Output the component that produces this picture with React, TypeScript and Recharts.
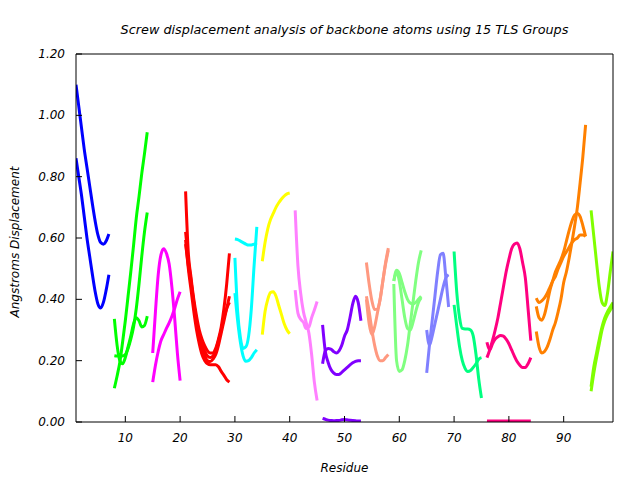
import { LineChart, Line, XAxis, YAxis } from 'recharts'

// residue positions and screw displacement per TLS group
const blueRes = [1, 1.5, 2, 2.5, 3, 3.5, 4, 4.5, 5, 5.5, 6, 6.5, 7]
const blueA = [1.1, 1.03, 0.96, 0.89, 0.83, 0.77, 0.71, 0.655, 0.61, 0.585, 0.58, 0.59, 0.613]
const blueB = [0.86, 0.8, 0.74, 0.67, 0.6, 0.54, 0.48, 0.425, 0.385, 0.372, 0.39, 0.43, 0.48]

const greenRes = [8, 8.5, 9, 9.5, 10, 10.5, 11, 11.5, 12, 12.5, 13, 13.5, 14]
const greenA = [0.11, 0.15, 0.195, 0.26, 0.33, 0.41, 0.49, 0.575, 0.665, 0.735, 0.81, 0.875, 0.945]
const greenB = [0.336, 0.25, 0.2, 0.19, 0.21, 0.245, 0.28, 0.32, 0.34, 0.33, 0.31, 0.315, 0.345]
const greenC = [0.216, 0.215, 0.22, 0.215, 0.22, 0.24, 0.27, 0.31, 0.37, 0.45, 0.54, 0.62, 0.683]

const magRes = [15, 15.5, 16, 16.5, 17, 17.5, 18, 18.5, 19, 19.5, 20]
const magA = [0.225, 0.36, 0.48, 0.545, 0.565, 0.55, 0.515, 0.44, 0.34, 0.225, 0.135]
const magB = [0.13, 0.185, 0.23, 0.265, 0.285, 0.305, 0.323, 0.345, 0.37, 0.4, 0.425]

const redRes = [21, 21.5, 22, 22.5, 23, 23.5, 24, 24.5, 25, 25.5, 26, 26.5, 27, 27.5, 28, 28.5, 29]
const redA = [0.752, 0.55, 0.47, 0.4, 0.345, 0.3, 0.27, 0.248, 0.232, 0.225, 0.225, 0.24, 0.27, 0.31, 0.37, 0.45, 0.55]
const redB = [0.62, 0.53, 0.46, 0.39, 0.33, 0.28, 0.245, 0.215, 0.2, 0.197, 0.205, 0.22, 0.25, 0.29, 0.33, 0.37, 0.41]
const redC = [0.594, 0.5, 0.43, 0.36, 0.3, 0.255, 0.22, 0.2, 0.19, 0.187, 0.187, 0.187, 0.18, 0.165, 0.152, 0.138, 0.13]
const redD = [0.58, 0.51, 0.45, 0.385, 0.325, 0.28, 0.25, 0.23, 0.215, 0.21, 0.215, 0.235, 0.265, 0.3, 0.34, 0.37, 0.39]

const cyanRes = [30, 30.5, 31, 31.5, 32, 32.5, 33, 33.5, 34]
const cyanA = [0.597, 0.595, 0.59, 0.585, 0.58, 0.577, 0.577, 0.58, 0.584]
const cyanB = [0.535, 0.36, 0.275, 0.24, 0.245, 0.28, 0.37, 0.51, 0.636]
const cyanC = [0.42, 0.33, 0.26, 0.215, 0.198, 0.2, 0.21, 0.225, 0.236]

const yellowRes = [35, 35.5, 36, 36.5, 37, 37.5, 38, 38.5, 39, 39.5, 40]
const yellowA = [0.524, 0.585, 0.63, 0.66, 0.68, 0.7, 0.715, 0.727, 0.737, 0.744, 0.747]
const yellowB = [0.285, 0.36, 0.4, 0.422, 0.425, 0.41, 0.38, 0.35, 0.32, 0.3, 0.288]

const pinkRes = [41, 41.5, 42, 42.5, 43, 43.5, 44, 44.5, 45]
const pinkA = [0.69, 0.51, 0.42, 0.36, 0.325, 0.29, 0.22, 0.13, 0.07]
const pinkB = [0.43, 0.355, 0.335, 0.325, 0.305, 0.31, 0.34, 0.365, 0.393]

const purpleRes = [46, 46.5, 47, 47.5, 48, 48.5, 49, 49.5, 50, 50.5, 51, 51.5, 52, 52.5, 53]
const purpleA = [0.317, 0.23, 0.195, 0.172, 0.16, 0.155, 0.155, 0.162, 0.17, 0.178, 0.186, 0.193, 0.198, 0.2, 0.2]
const purpleB = [0.19, 0.232, 0.24, 0.238, 0.23, 0.225, 0.232, 0.25, 0.28, 0.3, 0.34, 0.385, 0.41, 0.39, 0.33]
const purpleC = [0.012, 0.009, 0.006, 0.005, 0.004, 0.005, 0.005, 0.007, 0.008, 0.007, 0.006, 0.005, 0.004, 0.003, 0.003]

const salmonRes = [54, 54.5, 55, 55.5, 56, 56.5, 57, 57.5, 58]
const salmonA = [0.52, 0.45, 0.395, 0.367, 0.368, 0.4, 0.46, 0.52, 0.567]
const salmonB = [0.4, 0.32, 0.285, 0.31, 0.355, 0.4, 0.46, 0.515, 0.56]
const salmonC = [0.41, 0.36, 0.3, 0.25, 0.215, 0.2, 0.2, 0.21, 0.22]

const lgreenRes = [59, 59.5, 60, 60.5, 61, 61.5, 62, 62.5, 63, 63.5, 64]
const lgreenA = [0.46, 0.495, 0.485, 0.455, 0.425, 0.4, 0.388, 0.385, 0.39, 0.4, 0.41]
const lgreenB = [0.45, 0.2, 0.165, 0.17, 0.2, 0.25, 0.32, 0.39, 0.46, 0.52, 0.56]
const lgreenC = [0.46, 0.49, 0.46, 0.4, 0.34, 0.305, 0.3, 0.325, 0.36, 0.39, 0.405]

const periRes = [65, 65.5, 66, 66.5, 67, 67.5, 68, 68.5, 69]
const periA = [0.16, 0.25, 0.33, 0.41, 0.49, 0.545, 0.55, 0.47, 0.375]
const periB = [0.3, 0.25, 0.28, 0.32, 0.36, 0.4, 0.44, 0.47, 0.48]

const springRes = [70, 70.5, 71, 71.5, 72, 72.5, 73, 73.5, 74, 74.5, 75]
const springA = [0.556, 0.42, 0.34, 0.305, 0.303, 0.303, 0.3, 0.28, 0.22, 0.14, 0.078]
const springB = [0.382, 0.31, 0.245, 0.2, 0.175, 0.165, 0.168, 0.178, 0.19, 0.205, 0.21]

const dpinkRes = [76, 76.5, 77, 77.5, 78, 78.5, 79, 79.5, 80, 80.5, 81, 81.5, 82, 82.5, 83, 83.5, 84]
const dpinkA = [0.21, 0.235, 0.265, 0.3, 0.34, 0.39, 0.44, 0.49, 0.53, 0.565, 0.58, 0.584, 0.565, 0.52, 0.47, 0.37, 0.265]
const dpinkB = [0.26, 0.235, 0.255, 0.27, 0.278, 0.282, 0.28, 0.27, 0.255, 0.235, 0.215, 0.197, 0.185, 0.178, 0.178, 0.19, 0.21]
const dpinkC = [0.003, 0.003, 0.003, 0.003, 0.003, 0.003, 0.003, 0.003, 0.003, 0.003, 0.003, 0.003, 0.003, 0.003, 0.003, 0.003, 0.003]

const orangeRes = [85, 85.5, 86, 86.5, 87, 87.5, 88, 88.5, 89, 89.5, 90, 90.5, 91, 91.5, 92, 92.5, 93, 93.5, 94]
const orangeA = [0.404, 0.39, 0.395, 0.405, 0.42, 0.44, 0.46, 0.475, 0.5, 0.52, 0.54, 0.555, 0.57, 0.585, 0.595, 0.6, 0.61, 0.61, 0.605]
const orangeB = [0.377, 0.34, 0.332, 0.35, 0.388, 0.43, 0.46, 0.49, 0.51, 0.53, 0.555, 0.59, 0.625, 0.655, 0.675, 0.68, 0.67, 0.64, 0.605]
const orangeC = [0.295, 0.245, 0.225, 0.23, 0.245, 0.27, 0.3, 0.325, 0.36, 0.4, 0.455, 0.49, 0.535, 0.585, 0.64, 0.7, 0.78, 0.865, 0.969]

const chartRes = [95, 95.5, 96, 96.5, 97, 97.5, 98, 98.5, 99]
const chartA = [0.69, 0.605, 0.52, 0.44, 0.39, 0.38, 0.42, 0.49, 0.556]
const chartB = [0.1, 0.16, 0.21, 0.255, 0.3, 0.33, 0.35, 0.365, 0.38]
const chartC = [0.115, 0.18, 0.225, 0.27, 0.31, 0.34, 0.36, 0.375, 0.39]

const xTicks = [10, 20, 30, 40, 50, 60, 70, 80, 90]
const yTicks = [0, 0.2, 0.4, 0.6, 0.8, 1.0, 1.2]

const groups = [
  { color: '#0000ff', res: blueRes, series: [blueA, blueB] },
  { color: '#00ff00', res: greenRes, series: [greenA, greenB, greenC] },
  { color: '#ff00ff', res: magRes, series: [magA, magB] },
  { color: '#ff0000', res: redRes, series: [redA, redB, redC, redD] },
  { color: '#00ffff', res: cyanRes, series: [cyanA, cyanB, cyanC] },
  { color: '#ffff00', res: yellowRes, series: [yellowA, yellowB] },
  { color: '#ff80ff', res: pinkRes, series: [pinkA, pinkB] },
  { color: '#8000ff', res: purpleRes, series: [purpleA, purpleB, purpleC] },
  { color: '#ff9980', res: salmonRes, series: [salmonA, salmonB, salmonC] },
  { color: '#80ff80', res: lgreenRes, series: [lgreenA, lgreenB, lgreenC] },
  { color: '#8080ff', res: periRes, series: [periA, periB] },
  { color: '#00ff80', res: springRes, series: [springA, springB] },
  { color: '#ff0080', res: dpinkRes, series: [dpinkA, dpinkB, dpinkC] },
  { color: '#ff8000', res: orangeRes, series: [orangeA, orangeB, orangeC] },
  { color: '#80ff00', res: chartRes, series: [chartA, chartB, chartC] },
]

const font = '"DejaVu Sans", sans-serif'
const labelFont = { fill: '#000', fontSize: 12, fontStyle: 'italic', fontFamily: font }
const textStyle = {
  position: 'absolute' as const,
  fontFamily: font,
  fontStyle: 'italic',
  fontSize: 12,
  color: '#000',
  whiteSpace: 'nowrap' as const,
}

// gnuplot style ticks: short marks pointing into the plot box
const BottomTick = (p: any) => (
  <g>
    <line x1={p.x} x2={p.x} y1={p.y} y2={p.y - 6} stroke="#000" />
    <text x={p.x} y={p.y + 20} textAnchor="middle" {...labelFont}>
      {p.payload.value}
    </text>
  </g>
)
const TopTick = (p: any) => <line x1={p.x} x2={p.x} y1={p.y} y2={p.y + 6} stroke="#000" />
const LeftTick = (p: any) => (
  <g>
    <line x1={p.x} x2={p.x + 6} y1={p.y} y2={p.y} stroke="#000" />
    <text x={p.x - 11} y={p.y + 4} textAnchor="end" {...labelFont}>
      {p.payload.value.toFixed(2)}
    </text>
  </g>
)
const RightTick = (p: any) => <line x1={p.x} x2={p.x - 6} y1={p.y} y2={p.y} stroke="#000" />

export default function App() {
  return (
    <div style={{ position: 'absolute', left: 0, top: 0, width: 640, height: 480, background: '#fff' }}>
      <LineChart width={640} height={480} margin={{ top: 53, right: 26, bottom: 28, left: 16 }}>
        <XAxis
          dataKey="residue"
          type="number"
          domain={[1, 99]}
          ticks={xTicks}
          interval={0}
          allowDataOverflow
          height={30}
          stroke="#000"
          tickLine={false}
          tickSize={0}
          tickMargin={0}
          tick={BottomTick}
        />
        <XAxis
          xAxisId="top"
          orientation="top"
          type="number"
          domain={[1, 99]}
          ticks={xTicks}
          interval={0}
          height={1}
          stroke="#000"
          tickLine={false}
          tickSize={0}
          tickMargin={0}
          tick={TopTick}
        />
        <YAxis
          type="number"
          domain={[0, 1.2]}
          ticks={yTicks}
          interval={0}
          allowDataOverflow
          width={60}
          stroke="#000"
          tickLine={false}
          tickSize={0}
          tickMargin={0}
          tick={LeftTick}
        />
        <YAxis
          yAxisId="right"
          orientation="right"
          type="number"
          domain={[0, 1.2]}
          ticks={yTicks}
          interval={0}
          width={1}
          stroke="#000"
          tickLine={false}
          tickSize={0}
          tickMargin={0}
          tick={RightTick}
        />
        {groups.flatMap((g, gi) =>
          g.series.map((ys, si) => (
            <Line
              key={`${gi}-${si}`}
              data={g.res.map((r, i) => ({ residue: r, value: ys[i] }))}
              dataKey="value"
              type="monotone"
              stroke={g.color}
              strokeWidth={3}
              dot={false}
              activeDot={false}
              isAnimationActive={false}
            />
          ))
        )}
      </LineChart>
      <div style={{ ...textStyle, fontSize: 12.8, left: 76, width: 537, top: 22, textAlign: 'center' }}>
        Screw displacement analysis of backbone atoms using 15 TLS Groups
      </div>
      <div style={{ ...textStyle, left: 76, width: 537, top: 461, textAlign: 'center' }}>Residue</div>
      <div
        style={{
          ...textStyle,
          left: 15,
          top: 242,
          transform: 'translate(-50%, -50%) rotate(-90deg)',
        }}
      >
        Angstroms Displacement
      </div>
    </div>
  )
}
